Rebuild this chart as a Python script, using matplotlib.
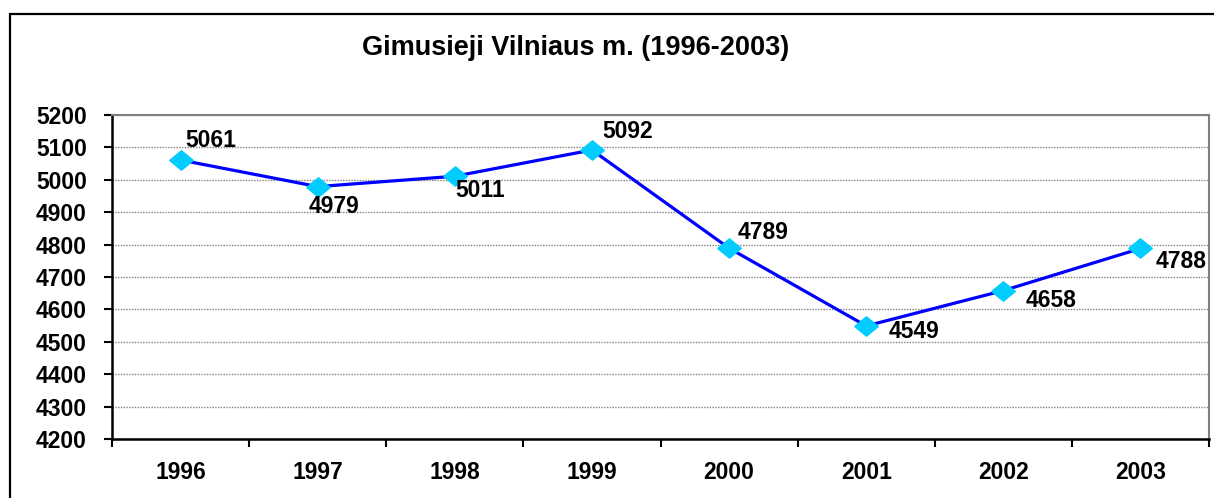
import matplotlib
matplotlib.use("Agg")
import matplotlib.pyplot as plt
from matplotlib.patches import Rectangle
from matplotlib.ticker import FixedLocator, MultipleLocator

# ----------------------------
# Data
# ----------------------------
years = ["1996", "1997", "1998", "1999", "2000", "2001", "2002", "2003"]
births = [5061, 4979, 5011, 5092, 4789, 4549, 4658, 4788]
title = "Gimusieji Vilniaus m. (1996-2003)"

# label offsets in pixels (dx of left edge, dy of centre), as placed in the original
label_offsets = [(5, 20), (-9, -20), (1, -14), (10, 18), (9, 16), (22, -6), (22, -10), (15, -13)]

plt.rcParams["font.family"] = ["Liberation Sans", "DejaVu Sans"]
plt.rcParams["font.weight"] = "bold"

fig = plt.figure(figsize=(12.14, 4.98), dpi=100)
ax = fig.add_axes([112 / 1214, 1 - 439 / 498, 1097 / 1214, 324 / 498])

x = list(range(len(years)))
diamond = [(-1, 0), (0, 0.82), (1, 0), (0, -0.82), (-1, 0)]
ax.plot(x, births, color="#0000FF", lw=2.3, marker=diamond, ms=17,
        mfc="#00CCFF", mec="#00CCFF", zorder=3)

for xi, v, (dx, dy) in zip(x, births, label_offsets):
    ax.annotate(str(v), (xi, v), xytext=(dx, dy), textcoords="offset pixels",
                ha="left", va="center", fontsize=16.5, fontweight="bold")

ax.set_xlim(-0.5, len(years) - 0.5)
ax.set_ylim(4200, 5200)
ax.yaxis.set_major_locator(MultipleLocator(100))
ax.set_xticks(x)
ax.set_xticklabels(years)
ax.xaxis.set_minor_locator(FixedLocator([i - 0.5 for i in range(len(years) + 1)]))
ax.tick_params(axis="x", which="major", length=0, pad=16, labelsize=16.5)
ax.tick_params(axis="x", which="minor", length=6, width=1.5, direction="out")
ax.tick_params(axis="y", length=6, width=1.5, pad=12, labelsize=16.5)

ax.grid(axis="y", color="#808080", linestyle=(0, (1, 1)), linewidth=1)
ax.set_axisbelow(True)

for side in ["left", "bottom"]:
    ax.spines[side].set_color("black")
    ax.spines[side].set_linewidth(1.8)
for side in ["top", "right"]:
    ax.spines[side].set_color("#808080")
    ax.spines[side].set_linewidth(1.5)

fig.text(576 / 1214, 1 - 48 / 498, title, ha="center", va="center",
         fontsize=19.5, fontweight="bold")

# outer chart frame
fig.patches.append(Rectangle((10 / 1214, -0.2), 1.5, 1.2 - 14 / 498,
                             transform=fig.transFigure, fill=False,
                             edgecolor="black", linewidth=1.6))

plt.savefig("out.png", dpi=100)
